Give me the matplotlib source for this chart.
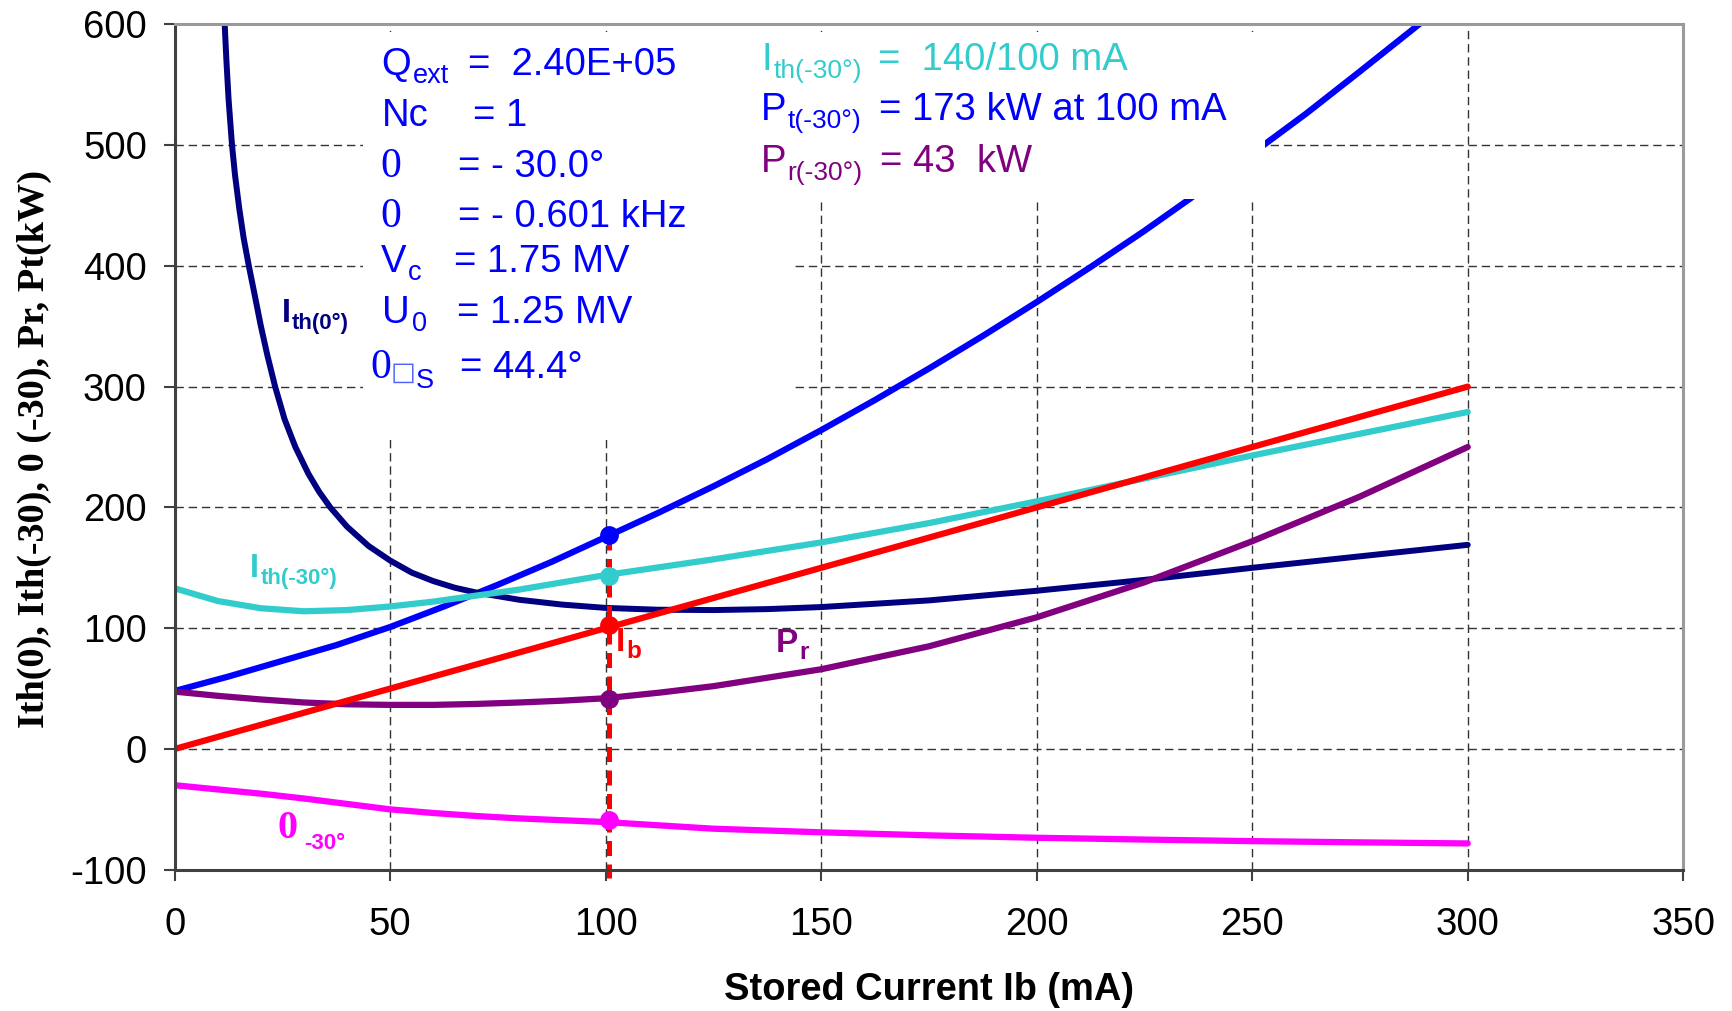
import matplotlib.pyplot as plt
from matplotlib.patches import Rectangle

plt.rcParams['font.family'] = ['Liberation Sans', 'DejaVu Sans']
plt.rcParams['axes.unicode_minus'] = False

# ---- data ----
ith0_x = [11.4, 11.6, 12.0, 12.5, 13.3, 14.0, 15.0, 16.0, 17.2, 18.5, 20.0, 21.5, 23.3, 25.5,
          28.0, 31.0, 33.5, 36.1, 40.0, 45.0, 50.0, 55.0, 60.0, 65.0, 70.0, 80.0, 90.0, 100.0,
          112.0, 125.0, 137.5, 150.0, 175.0, 200.0, 225.0, 250.0, 275.0, 300.0]
ith0_y = [615, 600, 570, 538, 500, 475, 447, 423, 400, 377, 350, 326, 300, 273,
          250, 228, 213, 200, 184, 168, 156, 146, 139, 133.5, 129.5, 123.5, 119.5, 116.8,
          115.3, 115, 115.8, 117.5, 123, 131, 140, 150, 159.5, 169]

pt_x = [0, 12.5, 25, 37.5, 50, 62.5, 75, 87.5, 100, 112.5, 125, 137.5, 150, 162.5, 175,
        187.5, 200, 212.5, 225, 237.5, 250, 262.5, 275, 287.5, 292]
pt_y = [48, 60, 73, 86, 101, 118, 136, 155, 175.5, 196, 217.5, 240, 264, 289, 315,
        342, 370, 399, 429, 460.5, 493, 526, 561, 596.5, 609.5]

ib_x = [0, 300]
ib_y = [0, 300]

ith30_x = [0, 10, 20, 30, 40, 50, 60, 70, 80, 90, 100, 125, 150, 175, 200, 225, 250, 275, 300]
ith30_y = [133, 122.5, 116.5, 114, 115, 118, 122, 127, 132, 138, 144, 157, 171, 187, 205, 224, 243, 261, 279]

pr_x = [0, 10, 20, 30, 40, 50, 60, 70, 80, 90, 100, 112.6, 125, 150, 175, 200, 225, 250, 275, 300]
pr_y = [47.5, 44, 41, 38.5, 37, 36.5, 36.5, 37.3, 38.5, 40, 42, 46.7, 52, 66, 85, 109, 138, 172, 209, 250]

phi_x = [0, 10, 20, 30, 40, 50, 60, 70, 80, 90, 100, 125, 150, 175, 200, 225, 250, 275, 300]
phi_y = [-30, -33.5, -37, -41, -45.5, -50, -53, -55.5, -57.5, -59, -60.5, -66, -69, -71.5,
         -73.5, -75, -76.3, -77.3, -78.2]

# operating point at Ib = 100 mA
op_x = 100.8
op_vals = [177, 143.5, 102.7, 41.5, -58.7]
op_cols = ['#0000FF', '#33CCCC', '#FF0000', '#800080', '#FF00FF']

xticks = [0, 50, 100, 150, 200, 250, 300, 350]
yticks = [-100, 0, 100, 200, 300, 400, 500, 600]

BLUE = '#0000FF'
CYAN = '#33CCCC'
PURP = '#800080'
NAVY = '#000080'
RED = '#FF0000'
MAG = '#FF00FF'

fig = plt.figure(figsize=(17.33, 10.11), dpi=100)
ax = fig.add_axes([0.1008, 0.1397, 0.8705, 0.8363])

ax.set_xlim(0, 350)
ax.set_ylim(-100, 600)
ax.set_xticks(xticks)
ax.set_yticks(yticks)
ax.tick_params(axis='both', labelsize=27.5, length=8, width=1.5, color='#404040', pad=12)
ax.tick_params(axis='x', pad=19)

for s in ['left', 'bottom']:
    ax.spines[s].set_color('#404040')
    ax.spines[s].set_linewidth(2.2)
for s in ['top', 'right']:
    ax.spines[s].set_color('#9a9a9a')
    ax.spines[s].set_linewidth(2.2)

ax.set_axisbelow(True)
ax.grid(True, color='#333333', linewidth=1.0, dashes=(6, 3.5))

kw = dict(solid_capstyle='round', solid_joinstyle='round', zorder=2)
ax.plot(pt_x, pt_y, color=BLUE, lw=4.5, **kw)
ax.plot(ith0_x, ith0_y, color=NAVY, lw=4.3, **kw)
ax.plot(ith30_x, ith30_y, color=CYAN, lw=4.5, **kw)
ax.plot(pr_x, pr_y, color=PURP, lw=4.5, **kw)
ax.plot(phi_x, phi_y, color=MAG, lw=4.5, **kw)
ax.plot(ib_x, ib_y, color=RED, lw=4.5, **kw)

# red dashed marker line at Ib = 100 mA
ax.plot([op_x, op_x], [op_vals[0], -107], color=RED, lw=3.6, dashes=(3, 1.7),
        clip_on=False, zorder=2.2)
for v, c in zip(op_vals, op_cols):
    ax.plot([op_x], [v], 'o', color=c, markersize=12.5, zorder=2.3)

# white boxes behind the text blocks
ax.add_patch(Rectangle((43.6, 256), 143.3 - 43.6, 594 - 256, facecolor='white',
                       edgecolor='none', zorder=2.5))
ax.add_patch(Rectangle((128, 455), 253 - 128, 594 - 455, facecolor='white',
                       edgecolor='none', zorder=2.5))


def lab(x, y, main, sub, color, size, subsize, weight='normal', fam=None, dx=1, dy=0):
    t = ax.text(x, y, main, color=color, fontsize=size, fontweight=weight,
                family=fam, ha='left', va='baseline', zorder=5)
    if sub:
        ax.annotate(sub, xy=(1, 0), xycoords=t, xytext=(dx, dy), textcoords='offset points',
                    color=color, fontsize=subsize, fontweight=weight, ha='left',
                    va='baseline', zorder=5)
    return t


def txt(x, y, s, color):
    ax.text(x, y, s, color=color, fontsize=FS, ha='left', va='baseline', zorder=5)


serif = ['Liberation Serif', 'DejaVu Serif']
FS = 27.5
SS = 19.5
ZS = 30

# left parameter block
lab(48.0, 558.0, 'Q', 'ext', BLUE, FS, SS)
txt(68.1, 558.0, '=  2.40E+05', BLUE)
lab(48.0, 515.8, 'Nc', None, BLUE, FS, SS)
txt(69.2, 515.8, '= 1', BLUE)
lab(47.8, 473.8, '0', None, BLUE, ZS, SS, fam=serif)
txt(65.7, 473.8, '= - 30.0°', BLUE)
lab(47.8, 432.4, '0', None, BLUE, ZS, SS, fam=serif)
txt(65.7, 432.4, '= - 0.601 kHz', BLUE)
lab(47.8, 395.2, 'V', 'c', BLUE, FS, SS)
txt(64.7, 395.2, '= 1.75 MV', BLUE)
lab(48.2, 352.5, 'U', '0', BLUE, FS, SS)
txt(65.5, 352.5, '= 1.25 MV', BLUE)
t0 = lab(45.3, 307.0, '0', None, BLUE, ZS, SS, fam=serif)
bx = ax.annotate('□', xy=(1, 0), xycoords=t0, xytext=(0, 5), textcoords='offset points',
                 color='#5060ff', fontsize=19, family=['DejaVu Sans'],
                 ha='left', va='baseline', zorder=5)
ax.annotate('S', xy=(1, 0), xycoords=bx, xytext=(0, -1), textcoords='offset points',
            color=BLUE, fontsize=SS, ha='left', va='baseline', zorder=5)
txt(66.2, 307.0, '= 44.4°', BLUE)

# right result block
lab(136.2, 562.2, 'I', 'th(-30°)', CYAN, FS, 19)
txt(163.2, 562.2, '=  140/100 mA', CYAN)
lab(135.9, 520.8, 'P', 't(-30°)', BLUE, FS, 19)
txt(163.5, 520.8, '= 173 kW at 100 mA', BLUE)
lab(135.9, 478.0, 'P', 'r(-30°)', PURP, FS, 19)
txt(163.7, 478.0, '= 43  kW', PURP)

# curve labels
lab(24.8, 353.8, 'I', 'th(0°)', NAVY, 23.5, 16, weight='bold')
lab(17.5, 142.2, 'I', 'th(-30°)', CYAN, 23.5, 16, weight='bold')
lab(102.4, 81.5, 'I', 'b', RED, 24, 17.5, weight='bold')
lab(139.5, 80.6, 'P', 'r', PURP, 24, 17.5, weight='bold')
lab(23.8, -73.8, '0', '-30°', MAG, 29, 16, weight='bold', fam=serif, dx=5, dy=-1)

fig.text(0.536, 0.0105, 'Stored Current Ib (mA)', fontsize=27.4, fontweight='bold',
         ha='center', va='baseline')
fig.text(0.0197, 0.556, 'Ith(0), Ith(-30), 0 (-30), Pr, Pt(kW)', fontsize=27.5,
         fontweight='bold', family=serif, rotation=90, ha='center', va='center')

fig.savefig('out.png', dpi=100, facecolor='white')
